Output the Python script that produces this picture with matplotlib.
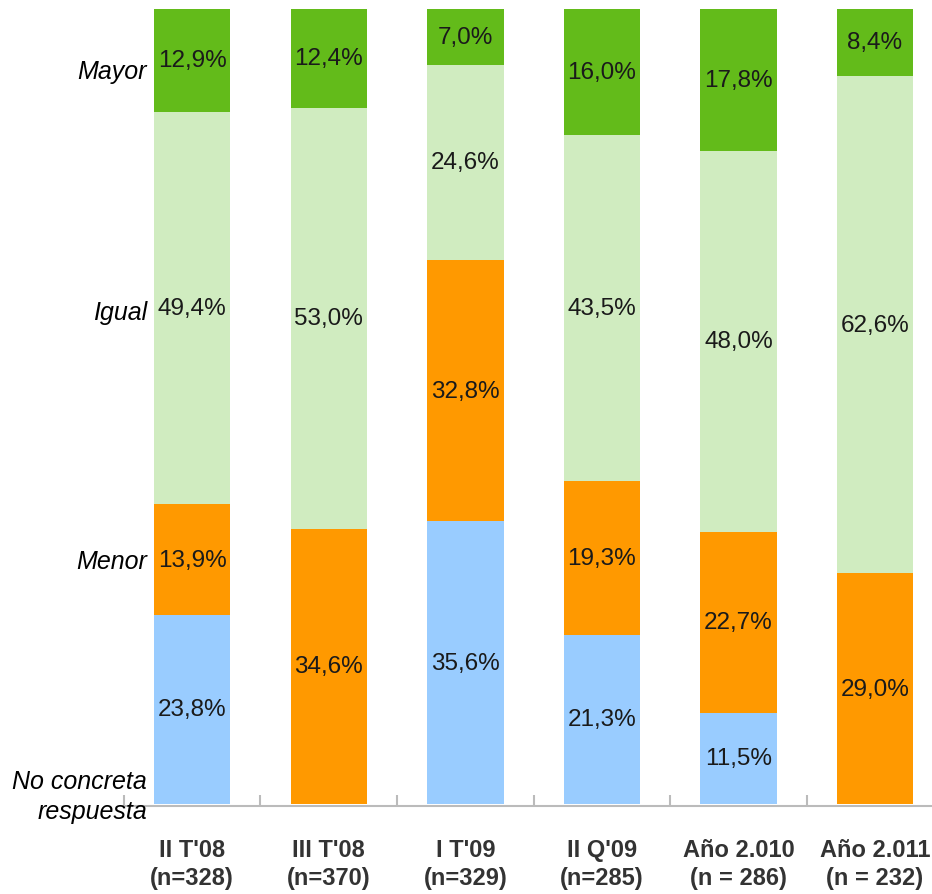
import matplotlib
import matplotlib.pyplot as plt
import numpy as np

matplotlib.use('Agg')

periodos = ["II T'08\n(n=328)", "III T'08\n(n=370)", "I T'09\n(n=329)",
            "II Q'09\n(n=285)", "Año 2.010\n(n = 286)", "Año 2.011\n(n = 232)"]

no_concreta = [23.8, 0.0, 35.6, 21.3, 11.5, 0.0]
menor = [13.9, 34.6, 32.8, 19.3, 22.7, 29.0]
igual = [49.4, 53.0, 24.6, 43.5, 48.0, 62.6]
mayor = [12.9, 12.4, 7.0, 16.0, 17.8, 8.4]

categorias = ['No concreta\nrespuesta', 'Menor', 'Igual', 'Mayor']
colores = ['#99CCFF', '#FF9900', '#D0ECC0', '#63BB1A']
series = [no_concreta, menor, igual, mayor]

fig = plt.figure(figsize=(9.32, 8.95), dpi=100)
ax = fig.add_axes([0.133, 0.0983, 0.879, 0.8905])

x = np.arange(len(periodos))
base = np.zeros(len(periodos))
for vals, color in zip(series, colores):
    vals = np.array(vals)
    ax.bar(x, vals, width=0.56, bottom=base, color=color, edgecolor='none')
    for xi, b, v in zip(x, base, vals):
        if v > 0:
            etiqueta = f'{v:.1f}%'.replace('.', ',')
            ax.text(xi, b + v / 2, etiqueta, ha='center', va='center',
                    fontsize=17.5, family='Liberation Sans', color='#1a1a1a')
    base += vals

# etiquetas de categoria a la izquierda
pos_etiquetas = [1.0, 30.6, 61.9, 92.2]
for nombre, y in zip(categorias, pos_etiquetas):
    ax.text(-0.33, y, nombre, ha='right', va='center', style='italic',
            fontsize=18, family='Liberation Sans', color='black',
            linespacing=1.3, clip_on=False)

ax.set_xlim(-0.5, len(periodos) - 0.5)
ax.set_ylim(-0.25, 100)

for lado in ['top', 'right', 'left']:
    ax.spines[lado].set_visible(False)
ax.spines['bottom'].set_color('#BBBBBB')
ax.spines['bottom'].set_linewidth(1.5)

ax.set_yticks([])
ax.set_xticks(x)
ax.set_xticklabels(periodos, fontsize=17, fontweight='bold',
                   family='Liberation Sans', color='#333333',
                   linespacing=1.28)
ax.tick_params(axis='x', which='major', length=0, pad=23)
ax.set_xticks(np.arange(len(periodos) + 1) - 0.5, minor=True)
ax.tick_params(axis='x', which='minor', direction='in', length=8,
               color='#BBBBBB', width=1.5)

fig.savefig('out.png', dpi=100)
